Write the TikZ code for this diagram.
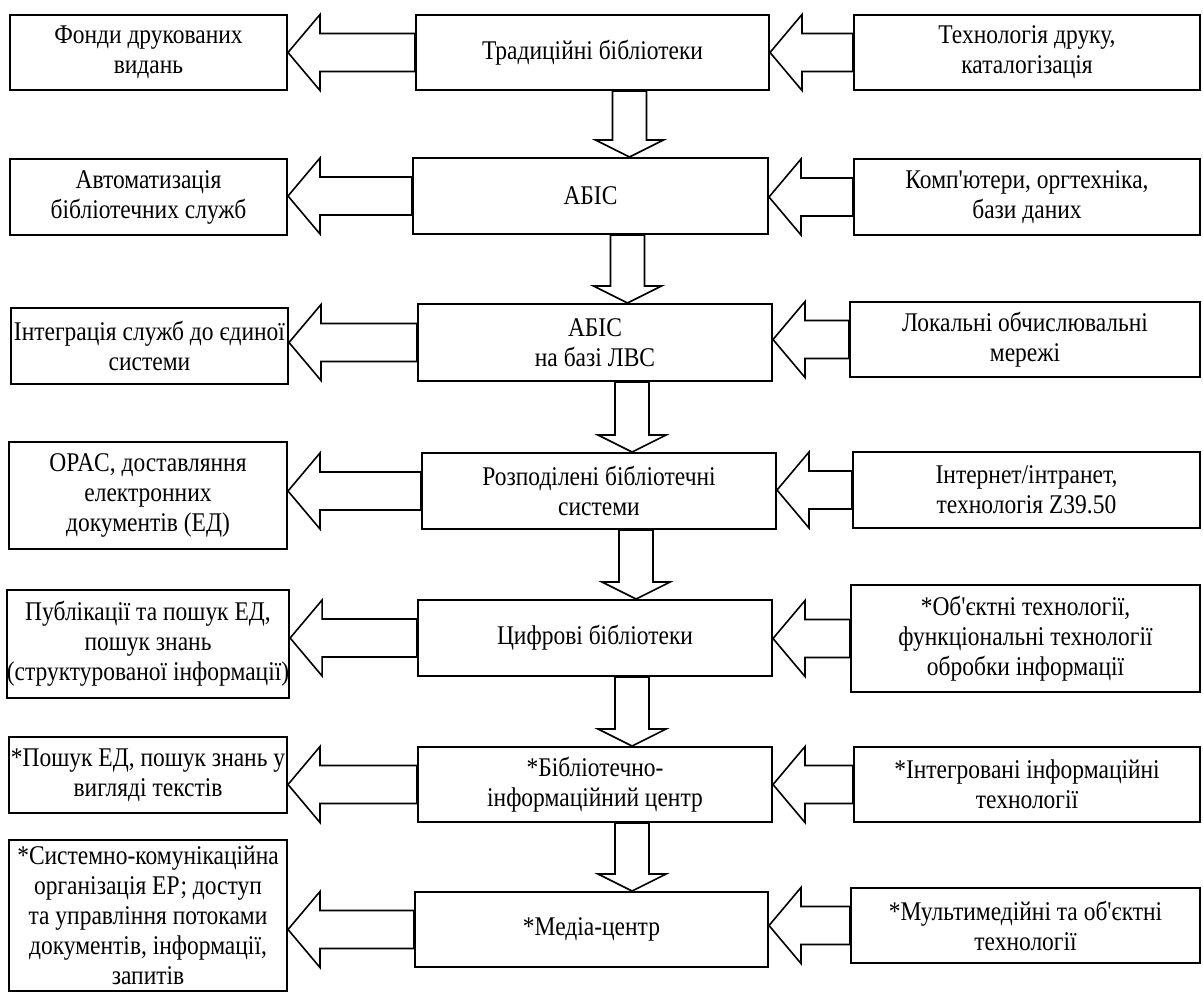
\documentclass[tikz,border=0pt]{standalone}
\usepackage{fontspec}
\setmainfont{Liberation Serif}[Ligatures=TeXOff, FakeStretch=0.87]
\usetikzlibrary{calc}
\tikzset{
  box/.style={draw, line width=1pt, inner sep=0pt, align=center, font=\fontsize{13.5}{15}\selectfont},
  sz/.style 2 args={minimum width=#1*0.5pt, minimum height=#2*0.5pt},
  blockarrow/.style={draw, line width=0.8pt, fill=white, line join=miter}
}
% hollow arrow pointing left, from #1 to #2
\newcommand{\leftblock}[2]{%
  \draw[blockarrow] let \p1=(#1.west), \p2=(#1.center), \p3=(#2.east) in
    (\x3,\y2) -- (\x3+16pt,\y2+19pt) -- (\x3+16pt,\y2+9.5pt) -- (\x1,\y2+9.5pt)
    -- (\x1,\y2-9.5pt) -- (\x3+16pt,\y2-9.5pt) -- (\x3+16pt,\y2-19pt) -- cycle;}
% hollow arrow pointing down, from #1 to #2
\newcommand{\downblock}[2]{%
  \draw[blockarrow] let \p1=(#1.south), \p2=(#2.north) in
    (\x1+18.5pt,\y2) -- (\x1+35.5pt,\y2+8.5pt) -- (\x1+27pt,\y2+8.5pt) -- (\x1+27pt,\y1)
    -- (\x1+10pt,\y1) -- (\x1+10pt,\y2+8.5pt) -- (\x1+1.5pt,\y2+8.5pt) -- cycle;}

\begin{document}
\begin{tikzpicture}[x=0.5pt, y=-0.5pt]
    \useasboundingbox (0,0) rectangle (1203,992);
    % Nodes
    \node[box, sz={277}{75}] (fondy) at (148.5,52.5) {Фонди друкованих\\видань};
    \node[box, sz={353}{75}] (trad) at (592.5,52.5) {Традиційні бібліотеки};
    \node[box, sz={346}{75}] (druk) at (1027,52.5) {Технологія друку,\\каталогізація};

    \node[box, sz={277}{76}] (avtom) at (148.5,197) {Автоматизація\\бібліотечних служб};
    \node[box, sz={355}{76}] (abis) at (590.5,196) {АБІС};
    \node[box, sz={346}{76}] (komp) at (1027,197) {Комп'ютери, оргтехніка,\\бази даних};

    \node[box, sz={277}{76}] (integr) at (149.5,346) {Інтеграція служб до єдиної\\системи};
    \node[box, sz={354}{77}] (lvs) at (595,342.5) {АБІС\\на базі ЛВС};
    \node[box, sz={350}{75}] (lokal) at (1025,339.5) {Локальні обчислювальні\\мережі};

    \node[box, sz={278}{107}] (opac) at (148,495.5) {OPAC, доставляння\\електронних\\документів (ЕД)};
    \node[box, sz={354}{76}] (rozp) at (599,491) {Розподілені бібліотечні\\системи};
    \node[box, sz={347}{76}] (inet) at (1026.5,490) {Інтернет/інтранет,\\технологія Z39.50};

    \node[box, sz={278}{108}] (publ) at (148,644) {Публікації та пошук ЕД,\\пошук знань\\(структурованої інформації)};
    \node[box, sz={354}{76}] (tsyfr) at (595,638) {Цифрові бібліотеки};
    \node[box, sz={349}{107}] (obj) at (1025.5,638.5) {*Об'єктні технології,\\функціональні технології\\обробки інформації};

    \node[box, sz={278}{76}] (poshuk) at (148,775) {*Пошук ЕД, пошук знань у\\вигляді текстів};
    \node[box, sz={354}{75}] (bic) at (595,784.5) {*Бібліотечно-\\інформаційний центр};
    \node[box, sz={346}{75}] (itech) at (1027,784.5) {*Інтегровані інформаційні\\технології};

    \node[box, sz={278}{151}] (sysk) at (148,915.5) {*Системно-комунікаційна\\організація ЕР; доступ\\та управління потоками\\документів, інформації,\\запитів};
    \node[box, sz={353}{75}] (media) at (591.5,929.5) {*Медіа-центр};
    \node[box, sz={349}{75}] (multi) at (1025.5,925.5) {*Мультимедійні та об'єктні\\технології};
    % Arrows
    \leftblock{trad}{fondy}   \leftblock{druk}{trad}
    \leftblock{abis}{avtom}   \leftblock{komp}{abis}
    \leftblock{lvs}{integr}   \leftblock{lokal}{lvs}
    \leftblock{rozp}{opac}    \leftblock{inet}{rozp}
    \leftblock{tsyfr}{publ}   \leftblock{obj}{tsyfr}
    \leftblock{bic}{poshuk}   \leftblock{itech}{bic}
    \leftblock{media}{sysk}   \leftblock{multi}{media}
    \downblock{trad}{abis}
    \downblock{abis}{lvs}
    \downblock{lvs}{rozp}
    \downblock{rozp}{tsyfr}
    \downblock{tsyfr}{bic}
    \downblock{bic}{media}
\end{tikzpicture}
\end{document}
